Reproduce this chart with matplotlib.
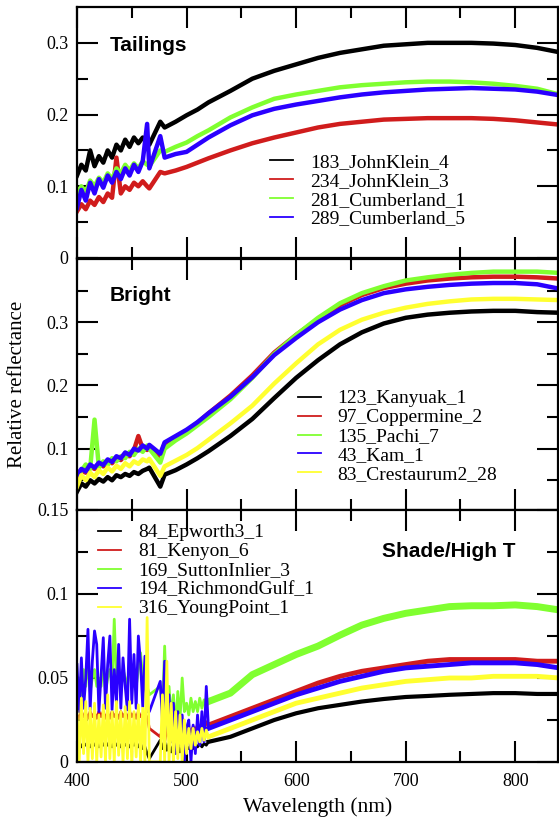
import matplotlib
matplotlib.use("Agg")
import matplotlib.pyplot as plt
from matplotlib.lines import Line2D
from matplotlib.ticker import MultipleLocator, FixedLocator, FuncFormatter

# wavelength grids (nm)
WL = list(range(400, 465, 4)) + [466, 476, 480, 490, 500, 510, 520] + list(range(540, 841, 20))
WL_B = list(range(400, 467, 2)) + list(range(476, 521, 2)) + list(range(540, 841, 20))

COLORS = ["#000000", "#d01c1c", "#80ff30", "#2a00ff", "#ffff30"]

# Tailings panel
tail_names = ["183_JohnKlein_4", "234_JohnKlein_3", "281_Cumberland_1", "289_Cumberland_5"]
tail_183 = [0.115, 0.13, 0.122, 0.15, 0.128, 0.142, 0.133, 0.15, 0.14, 0.158, 0.15, 0.165, 0.155, 0.168, 0.16, 0.168, 0.162, 0.158,
            0.19, 0.182, 0.19, 0.199, 0.207, 0.217, 0.233, 0.25, 0.261, 0.27, 0.279, 0.286, 0.291, 0.296, 0.298, 0.3, 0.3, 0.3, 0.299, 0.297, 0.293, 0.287]
tail_234 = [0.065, 0.075, 0.068, 0.08, 0.074, 0.085, 0.078, 0.09, 0.084, 0.14, 0.09, 0.1, 0.095, 0.105, 0.1, 0.107, 0.1, 0.097,
            0.12, 0.118, 0.122, 0.127, 0.133, 0.139, 0.15, 0.16, 0.168, 0.175, 0.182, 0.187, 0.19, 0.193, 0.194, 0.195, 0.195, 0.195, 0.194, 0.192, 0.189, 0.186]
tail_281 = [0.09, 0.1, 0.092, 0.108, 0.1, 0.112, 0.105, 0.118, 0.11, 0.125, 0.118, 0.13, 0.122, 0.132, 0.125, 0.135, 0.13, 0.128,
            0.15, 0.148, 0.155, 0.161, 0.17, 0.178, 0.196, 0.21, 0.222, 0.228, 0.233, 0.238, 0.241, 0.243, 0.245, 0.246, 0.246, 0.245, 0.243, 0.24, 0.236, 0.228]
tail_289 = [0.07, 0.095, 0.08, 0.105, 0.09, 0.11, 0.098, 0.115, 0.105, 0.12, 0.11, 0.125, 0.115, 0.13, 0.12, 0.135, 0.187, 0.125,
            0.17, 0.14, 0.145, 0.148, 0.158, 0.168, 0.185, 0.199, 0.208, 0.214, 0.219, 0.224, 0.228, 0.231, 0.233, 0.235, 0.236, 0.237, 0.236, 0.235, 0.232, 0.227]

# Bright panel
bright_names = ["123_Kanyuak_1", "97_Coppermine_2", "135_Pachi_7", "43_Kam_1", "83_Crestaurum2_28"]
bright_123 = [0.032, 0.045, 0.04, 0.05, 0.045, 0.052, 0.048, 0.055, 0.05, 0.058, 0.055, 0.06, 0.057, 0.063, 0.06, 0.065, 0.068, 0.07,
              0.04, 0.059, 0.066, 0.075, 0.085, 0.096, 0.12, 0.147, 0.18, 0.212, 0.24, 0.265, 0.284, 0.298, 0.307, 0.312, 0.315, 0.317, 0.318, 0.318, 0.316, 0.315]
bright_97 = [0.055, 0.066, 0.062, 0.072, 0.068, 0.076, 0.072, 0.08, 0.077, 0.086, 0.082, 0.09, 0.088, 0.098, 0.12, 0.1, 0.098, 0.104,
             0.088, 0.108, 0.118, 0.128, 0.141, 0.156, 0.184, 0.216, 0.252, 0.28, 0.305, 0.327, 0.343, 0.354, 0.361, 0.366, 0.369, 0.371, 0.372, 0.372, 0.371, 0.369]
bright_135 = [0.06, 0.065, 0.075, 0.068, 0.146, 0.07, 0.08, 0.074, 0.085, 0.08, 0.088, 0.085, 0.095, 0.09, 0.1, 0.095, 0.105, 0.1,
              0.078, 0.1, 0.113, 0.124, 0.137, 0.15, 0.178, 0.212, 0.25, 0.28, 0.307, 0.33, 0.346, 0.357, 0.366, 0.371, 0.375, 0.378, 0.38, 0.38, 0.38, 0.378]
bright_43 = [0.058, 0.068, 0.064, 0.075, 0.07, 0.078, 0.074, 0.083, 0.079, 0.088, 0.085, 0.094, 0.09, 0.1, 0.097, 0.105, 0.1, 0.106,
             0.092, 0.11, 0.12, 0.13, 0.142, 0.156, 0.182, 0.213, 0.248, 0.275, 0.3, 0.32, 0.335, 0.346, 0.352, 0.356, 0.359, 0.361, 0.362, 0.362, 0.36, 0.353]
bright_83 = [0.04, 0.058, 0.05, 0.062, 0.055, 0.066, 0.06, 0.07, 0.064, 0.073, 0.068, 0.077, 0.072, 0.08, 0.076, 0.083, 0.08, 0.084,
             0.057, 0.072, 0.081, 0.09, 0.101, 0.114, 0.14, 0.168, 0.203, 0.235, 0.265, 0.288, 0.304, 0.315, 0.323, 0.329, 0.333, 0.336, 0.337, 0.337, 0.336, 0.335]

# Shade/High T panel (noisy below 520 nm, so read more densely there)
shade_names = ["84_Epworth3_1", "81_Kenyon_6", "169_SuttonInlier_3", "194_RichmondGulf_1", "316_YoungPoint_1"]
shade_84 = [0.01, 0.012, 0.009, 0.011, 0.01, 0.012, 0.009, 0.011, 0.01, 0.012, 0.009, 0.011, 0.01, 0.012, 0.01, 0.011, 0.009,
            0.012, 0.01, 0.011, 0.009, 0.012, 0.01, 0.011, 0.009, 0.011, 0.01, 0.012, 0.009, 0.011, 0.008, 0.009, 0.005, 0.002,
            0.013, 0.008, 0.012, 0.007, 0.011, 0.006, 0.01, 0.007, 0.01, 0.006, 0.009, 0.007, 0.009, 0.008, 0.01, 0.008, 0.01,
            0.009, 0.011, 0.009, 0.011, 0.01, 0.012,
            0.015, 0.02, 0.025, 0.029, 0.032, 0.034, 0.036, 0.0375, 0.0387, 0.0393, 0.04, 0.0405, 0.041, 0.041, 0.0405, 0.0405]
shade_81 = [0.028, 0.026, 0.03, 0.027, 0.029, 0.026, 0.03, 0.027, 0.029, 0.026, 0.03, 0.027, 0.03, 0.026, 0.029, 0.026, 0.03,
            0.027, 0.029, 0.026, 0.03, 0.027, 0.029, 0.026, 0.03, 0.027, 0.029, 0.026, 0.03, 0.027, 0.028, 0.026, 0.027, 0.02,
            0.015, 0.02, 0.012, 0.02, 0.015, 0.018, 0.014, 0.018, 0.015, 0.018, 0.016, 0.019, 0.017, 0.02, 0.018, 0.021, 0.019,
            0.022, 0.02, 0.023, 0.021, 0.024, 0.022,
            0.027, 0.032, 0.037, 0.042, 0.047, 0.051, 0.054, 0.056, 0.058, 0.06, 0.061, 0.061, 0.061, 0.061, 0.06, 0.06]
shade_169 = [0.045, 0.05, 0.04, 0.055, 0.045, 0.06, 0.042, 0.05, 0.055, 0.045, 0.05, 0.045, 0.06, 0.042, 0.05, 0.055, 0.045,
             0.085, 0.048, 0.05, 0.045, 0.055, 0.05, 0.045, 0.06, 0.05, 0.05, 0.045, 0.055, 0.065, 0.05, 0.055, 0.045, 0.04,
             0.045, 0.03, 0.069, 0.03, 0.045, 0.025, 0.04, 0.02, 0.042, 0.025, 0.05, 0.03, 0.035, 0.028, 0.038, 0.03, 0.036,
             0.03, 0.038, 0.032, 0.037, 0.033, 0.036,
             0.041, 0.052, 0.058, 0.064, 0.069, 0.0755, 0.0815, 0.0855, 0.0885, 0.0905, 0.0925, 0.093, 0.093, 0.0935, 0.0925, 0.0905]
shade_194 = [0.058, 0.03, 0.062, 0.032, 0.05, 0.079, 0.031, 0.06, 0.078, 0.07, 0.03, 0.052, 0.074, 0.032, 0.058, 0.075, 0.031,
             0.055, 0.035, 0.07, 0.032, 0.062, 0.045, 0.031, 0.085, 0.035, 0.064, 0.032, 0.075, 0.059, 0.033, 0.063, 0.03, 0.03,
             0.048, 0.025, 0.06, 0.02, 0.04, 0.012, 0.035, 0.005, 0.03, 0.01, 0.028, 0.0, 0.02, 0.025, 0.0, 0.022, 0.005,
             0.028, 0.01, 0.03, 0.012, 0.045, 0.02,
             0.025, 0.03, 0.035, 0.04, 0.044, 0.048, 0.051, 0.054, 0.056, 0.057, 0.058, 0.059, 0.059, 0.059, 0.058, 0.056]
shade_316 = [0.03, 0.0, 0.038, 0.005, 0.036, 0.0, 0.032, 0.002, 0.035, 0.0, 0.028, 0.003, 0.034, 0.0, 0.04, 0.002, 0.03,
             0.0, 0.036, 0.004, 0.03, 0.0, 0.033, 0.002, 0.036, 0.0, 0.03, 0.003, 0.034, 0.0, 0.032, 0.0, 0.086, 0.0,
             0.0, 0.04, 0.0, 0.06, 0.0, 0.035, 0.0, 0.03, 0.002, 0.028, 0.0, 0.025, 0.005, 0.02, 0.008, 0.02, 0.01,
             0.018, 0.012, 0.02, 0.013, 0.019, 0.015,
             0.02, 0.025, 0.03, 0.035, 0.038, 0.041, 0.044, 0.046, 0.048, 0.049, 0.05, 0.05, 0.051, 0.051, 0.051, 0.05]

SERIF = "Liberation Serif"
SANS = "Liberation Sans"


def style_axis(ax, ylim, major, minor, labelled):
    """Inward ticks on all sides, xmgrace look"""
    ax.set_xlim(400, 839)
    ax.set_ylim(*ylim)
    ax.xaxis.set_major_locator(MultipleLocator(100))
    ax.xaxis.set_minor_locator(MultipleLocator(50))
    ax.yaxis.set_major_locator(FixedLocator(major))
    ax.yaxis.set_minor_locator(FixedLocator(minor))
    ax.yaxis.set_major_formatter(FuncFormatter(lambda v, p: "%g" % v if round(v, 3) in labelled else ""))
    ax.tick_params(which="both", direction="in", top=True, right=True, width=1.5, labelsize=13)
    ax.tick_params(which="major", length=15)
    ax.tick_params(which="minor", length=8)
    ax.tick_params(axis="x", pad=8)
    ax.tick_params(axis="y", pad=6)
    for sp in ax.spines.values():
        sp.set_linewidth(1.6)


def legend(ax, names, x, y):
    handles = [Line2D([], [], color=c, lw=1.3) for c in COLORS[:len(names)]]
    ax.legend(handles, names, loc="upper left", bbox_to_anchor=(x, y), frameon=False,
              prop={"family": SERIF, "size": 14}, handlelength=1.2, handletextpad=0.85,
              labelspacing=0.07, borderpad=0, borderaxespad=0)


plt.rcParams["font.family"] = SERIF
fig = plt.figure(figsize=(5.59, 8.26), dpi=100)
left, width = 77 / 559, 481 / 559
ax1 = fig.add_axes([left, 568 / 826, width, 251 / 826])
ax2 = fig.add_axes([left, 316 / 826, width, 251 / 826])
ax3 = fig.add_axes([left, 64 / 826, width, 252 / 826])

# Tailings
for vals, c in zip([tail_183, tail_234, tail_281, tail_289], COLORS):
    ax1.plot(WL, vals, color=c, lw=3.2)
style_axis(ax1, (0, 0.35), [0, 0.1, 0.2, 0.3], [0.05, 0.15, 0.25], [0, 0.1, 0.2, 0.3])
ax1.tick_params(axis="x", labelbottom=False)
ax1.text(0.0686, 0.825, "Tailings", transform=ax1.transAxes, family=SANS, weight="bold", size=15)
legend(ax1, tail_names, 0.401, 0.418)

# Bright
for vals, c in zip([bright_123, bright_97, bright_135, bright_43, bright_83], COLORS):
    ax2.plot(WL, vals, color=c, lw=3.2)
style_axis(ax2, (0.003, 0.4), [0.1, 0.2, 0.3], [0.05, 0.15, 0.25, 0.35], [0.1, 0.2, 0.3])
ax2.tick_params(axis="x", labelbottom=False)
ax2.text(0.0686, 0.833, "Bright", transform=ax2.transAxes, family=SANS, weight="bold", size=15)
ax2.set_ylabel("Relative reflectance", size=15)
ax2.yaxis.set_label_coords(-0.104, 0.5)
legend(ax2, bright_names, 0.459, 0.479)

# Shade/High T: thin lines in the noisy part, thicker above 520 nm
cut = WL_B.index(520)
widths = [3, 3.5, 5, 3.5, 3.5]
for vals, c, w in zip([shade_84, shade_81, shade_169, shade_194, shade_316], COLORS, widths):
    ax3.plot(WL_B[:cut + 1], vals[:cut + 1], color=c, lw=2)
    ax3.plot(WL_B[cut:], vals[cut:], color=c, lw=w)
style_axis(ax3, (0, 0.15), [0, 0.05, 0.1, 0.15], [0.025, 0.075, 0.125], [0, 0.05, 0.1, 0.15])
ax3.text(0.911, 0.813, "Shade/High T", transform=ax3.transAxes, family=SANS, weight="bold", size=15, ha="right")
ax3.set_xlabel("Wavelength (nm)", size=15.5)
ax3.xaxis.set_label_coords(0.5, -0.14)
legend(ax3, shade_names, 0.044, 0.945)

fig.savefig("out.png", dpi=100)
